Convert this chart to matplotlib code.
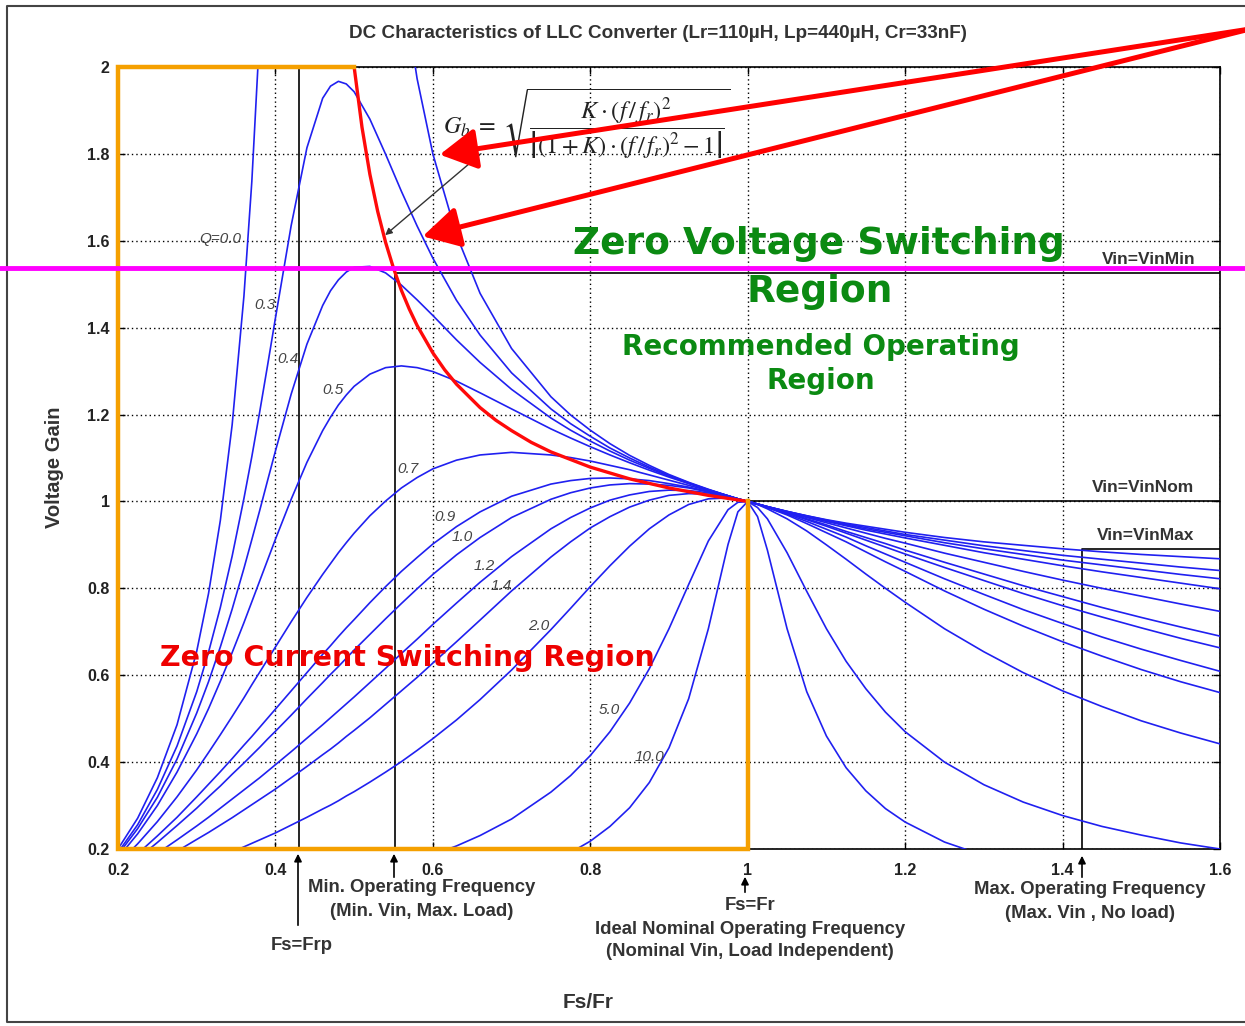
import matplotlib
matplotlib.use("Agg")
import numpy as np
import matplotlib.pyplot as plt
from matplotlib.lines import Line2D
from matplotlib.patches import FancyArrowPatch

plt.rcParams['font.family'] = ['Liberation Sans', 'DejaVu Sans']
plt.rcParams['mathtext.fontset'] = 'stix'

# normalized switching frequency Fs/Fr (shared by all Q curves)
fs_fr = [0.20, 0.225, 0.25, 0.275, 0.30, 0.315, 0.33, 0.345, 0.36, 0.37,
         0.38, 0.39, 0.40, 0.42, 0.44, 0.46, 0.47, 0.48, 0.49, 0.50,
         0.52, 0.54, 0.56, 0.58, 0.60, 0.63, 0.66, 0.70, 0.75, 0.775,
         0.80, 0.825, 0.85, 0.875, 0.90, 0.925, 0.95, 0.975, 0.9875, 1.00,
         1.0125, 1.025, 1.05, 1.075, 1.10, 1.125, 1.15, 1.175, 1.20, 1.25,
         1.30, 1.35, 1.40, 1.45, 1.50, 1.55, 1.60]

nan = np.nan
gain_q00 = [0.200, 0.271, 0.364, 0.486, 0.655, 0.788, 0.956, 1.176, 1.473, 1.736,
            2.078, 2.540, 3.200, nan, nan, nan, nan, nan, nan, nan,
            nan, 2.547, 2.208, 1.973, 1.800, 1.613, 1.479, 1.352, 1.241, 1.199,
            1.164, 1.133, 1.106, 1.083, 1.062, 1.044, 1.028, 1.013, 1.006, 1.000,
            0.994, 0.988, 0.977, 0.967, 0.958, 0.950, 0.943, 0.936, 0.929, 0.917,
            0.907, 0.899, 0.891, 0.884, 0.878, 0.873, 0.868]
gain_q03 = [0.192, 0.256, 0.337, 0.437, 0.562, 0.653, 0.756, 0.874, 1.007, 1.103,
            1.206, 1.313, 1.422, 1.635, 1.814, 1.928, 1.956, 1.967, 1.961, 1.943,
            1.880, 1.799, 1.714, 1.634, 1.560, 1.463, 1.383, 1.296, 1.213, 1.179,
            1.150, 1.123, 1.100, 1.079, 1.060, 1.043, 1.027, 1.013, 1.006, 1.000,
            0.994, 0.988, 0.977, 0.967, 0.957, 0.948, 0.940, 0.932, 0.924, 0.911,
            0.898, 0.887, 0.876, 0.867, 0.858, 0.849, 0.841]
gain_q04 = [0.187, 0.247, 0.319, 0.407, 0.513, 0.585, 0.665, 0.752, 0.846, 0.912,
            0.979, 1.048, 1.116, 1.247, 1.362, 1.451, 1.485, 1.510, 1.528, 1.539,
            1.541, 1.526, 1.498, 1.464, 1.428, 1.372, 1.320, 1.258, 1.192, 1.164,
            1.139, 1.116, 1.095, 1.076, 1.058, 1.042, 1.027, 1.013, 1.006, 1.000,
            0.994, 0.988, 0.977, 0.966, 0.956, 0.946, 0.937, 0.929, 0.921, 0.905,
            0.891, 0.878, 0.865, 0.854, 0.843, 0.832, 0.822]
gain_q05 = [0.180, 0.235, 0.300, 0.377, 0.465, 0.523, 0.586, 0.652, 0.721, 0.769,
            0.817, 0.865, 0.913, 1.005, 1.090, 1.163, 1.194, 1.222, 1.245, 1.265,
            1.293, 1.308, 1.312, 1.308, 1.299, 1.277, 1.250, 1.213, 1.167, 1.146,
            1.126, 1.107, 1.089, 1.072, 1.056, 1.041, 1.026, 1.013, 1.006, 1.000,
            0.994, 0.988, 0.976, 0.965, 0.954, 0.944, 0.934, 0.925, 0.916, 0.899,
            0.882, 0.867, 0.852, 0.838, 0.825, 0.812, 0.799]
gain_q07 = [0.166, 0.212, 0.263, 0.320, 0.382, 0.422, 0.463, 0.505, 0.548, 0.578,
            0.607, 0.636, 0.665, 0.723, 0.779, 0.832, 0.857, 0.882, 0.905, 0.927,
            0.967, 1.001, 1.031, 1.055, 1.075, 1.095, 1.107, 1.113, 1.107, 1.101,
            1.093, 1.083, 1.073, 1.061, 1.049, 1.037, 1.025, 1.013, 1.006, 1.000,
            0.994, 0.988, 0.975, 0.963, 0.951, 0.939, 0.927, 0.915, 0.904, 0.881,
            0.860, 0.839, 0.819, 0.800, 0.782, 0.764, 0.747]
gain_q09 = [0.151, 0.189, 0.230, 0.273, 0.320, 0.349, 0.378, 0.408, 0.439, 0.459,
            0.480, 0.501, 0.522, 0.564, 0.606, 0.648, 0.668, 0.689, 0.709, 0.728,
            0.767, 0.804, 0.839, 0.871, 0.902, 0.942, 0.976, 1.012, 1.040, 1.048,
            1.053, 1.054, 1.052, 1.048, 1.041, 1.033, 1.023, 1.012, 1.006, 1.000,
            0.994, 0.987, 0.974, 0.960, 0.946, 0.931, 0.917, 0.903, 0.888, 0.860,
            0.833, 0.806, 0.781, 0.756, 0.733, 0.711, 0.690]
gain_q10 = [0.144, 0.178, 0.215, 0.254, 0.294, 0.320, 0.345, 0.372, 0.398, 0.416,
            0.434, 0.453, 0.471, 0.508, 0.546, 0.583, 0.602, 0.620, 0.639, 0.658,
            0.694, 0.730, 0.765, 0.799, 0.832, 0.877, 0.917, 0.963, 1.005, 1.020,
            1.031, 1.038, 1.041, 1.040, 1.037, 1.031, 1.022, 1.012, 1.006, 1.000,
            0.994, 0.987, 0.973, 0.958, 0.943, 0.927, 0.911, 0.895, 0.879, 0.848,
            0.818, 0.788, 0.760, 0.734, 0.709, 0.685, 0.663]
gain_q12 = [0.131, 0.160, 0.190, 0.221, 0.253, 0.273, 0.294, 0.315, 0.336, 0.350,
            0.364, 0.379, 0.394, 0.424, 0.455, 0.486, 0.502, 0.518, 0.534, 0.550,
            0.583, 0.616, 0.650, 0.683, 0.717, 0.766, 0.814, 0.873, 0.937, 0.963,
            0.985, 1.003, 1.015, 1.023, 1.026, 1.025, 1.020, 1.011, 1.006, 1.000,
            0.994, 0.986, 0.971, 0.954, 0.936, 0.918, 0.898, 0.879, 0.860, 0.822,
            0.786, 0.751, 0.719, 0.688, 0.660, 0.634, 0.609]
gain_q14 = [0.119, 0.144, 0.169, 0.195, 0.222, 0.238, 0.255, 0.272, 0.290, 0.302,
            0.314, 0.326, 0.338, 0.364, 0.390, 0.417, 0.430, 0.444, 0.459, 0.473,
            0.502, 0.533, 0.564, 0.595, 0.628, 0.677, 0.727, 0.794, 0.872, 0.907,
            0.939, 0.965, 0.987, 1.003, 1.014, 1.018, 1.017, 1.011, 1.006, 1.000,
            0.993, 0.986, 0.969, 0.949, 0.928, 0.907, 0.884, 0.861, 0.839, 0.794,
            0.752, 0.713, 0.677, 0.644, 0.613, 0.585, 0.560]
gain_q20 = [0.092, 0.109, 0.125, 0.142, 0.160, 0.171, 0.182, 0.193, 0.205, 0.213,
            0.221, 0.229, 0.237, 0.255, 0.273, 0.292, 0.301, 0.311, 0.322, 0.332,
            0.354, 0.377, 0.401, 0.427, 0.454, 0.497, 0.544, 0.612, 0.705, 0.754,
            0.804, 0.852, 0.897, 0.937, 0.969, 0.993, 1.006, 1.008, 1.005, 1.000,
            0.993, 0.983, 0.960, 0.932, 0.900, 0.867, 0.833, 0.800, 0.768, 0.707,
            0.654, 0.606, 0.564, 0.528, 0.495, 0.467, 0.442]
gain_q50 = [0.041, 0.047, 0.053, 0.059, 0.066, 0.070, 0.074, 0.078, 0.083, 0.086,
            0.089, 0.092, 0.095, 0.102, 0.109, 0.117, 0.121, 0.125, 0.129, 0.133,
            0.142, 0.152, 0.163, 0.174, 0.187, 0.207, 0.231, 0.269, 0.331, 0.369,
            0.415, 0.470, 0.536, 0.615, 0.707, 0.809, 0.909, 0.981, 0.998, 1.000,
            0.986, 0.960, 0.882, 0.793, 0.707, 0.632, 0.569, 0.515, 0.470, 0.400,
            0.348, 0.308, 0.277, 0.252, 0.232, 0.214, 0.200]
gain_q100 = [0.021, 0.024, 0.027, 0.030, 0.033, 0.035, 0.037, 0.039, 0.041, 0.043,
             0.044, 0.046, 0.048, 0.051, 0.055, 0.058, 0.060, 0.062, 0.064, 0.067,
             0.071, 0.076, 0.082, 0.087, 0.094, 0.104, 0.117, 0.137, 0.170, 0.192,
             0.218, 0.252, 0.295, 0.353, 0.433, 0.546, 0.707, 0.901, 0.976, 1.000,
             0.965, 0.888, 0.707, 0.562, 0.460, 0.387, 0.334, 0.293, 0.262, 0.216,
             0.185, 0.162, 0.144, 0.130, 0.119, 0.110, 0.102]

# ZVS / ZCS boundary (red)
zvs_fs = [0.50, 0.51, 0.52, 0.53, 0.54, 0.55, 0.56, 0.57, 0.58, 0.60, 0.615,
          0.63, 0.66, 0.68, 0.70, 0.725, 0.75, 0.80, 0.85, 0.90, 0.95, 1.00]
zvs_gain = [2.000, 1.861, 1.753, 1.667, 1.596, 1.537, 1.486, 1.443, 1.405, 1.342, 1.303,
            1.270, 1.216, 1.187, 1.163, 1.136, 1.114, 1.079, 1.052, 1.031, 1.014, 1.000]

# curve labels and where they sit
q_labels = ['Q=0.0', '0.3', '0.4', '0.5', '0.7', '0.9', '1.0', '1.2', '1.4', '2.0', '5.0', '10.0']
q_label_x = [0.330, 0.387, 0.416, 0.473, 0.568, 0.615, 0.637, 0.665, 0.687, 0.735, 0.824, 0.875]
q_label_y = [1.604, 1.452, 1.328, 1.257, 1.075, 0.964, 0.918, 0.851, 0.805, 0.713, 0.520, 0.412]

# operating points
fs_frp = 0.43
fs_min = 0.552
fs_max = 1.425
gain_vin_min = 1.526
gain_vin_nom = 1.0
gain_vin_max = 0.891

x_ticks = [0.2, 0.4, 0.6, 0.8, 1.0, 1.2, 1.4, 1.6]
x_tick_labels = ['0.2', '0.4', '0.6', '0.8', '1', '1.2', '1.4', '1.6']
y_ticks = [0.2, 0.4, 0.6, 0.8, 1.0, 1.2, 1.4, 1.6, 1.8, 2.0]
y_tick_labels = ['0.2', '0.4', '0.6', '0.8', '1', '1.2', '1.4', '1.6', '1.8', '2']

W, H = 1245, 1026


def fpos(px, py):
    # pixel position in the picture -> figure fraction
    return px / W, 1 - py / H


BLUE = '#2020f0'
ORANGE = '#f5a000'
GREEN = '#0b8a12'
TXT = '#333333'

fig = plt.figure(figsize=(W / 100, H / 100), dpi=100)
ax = fig.add_axes([118 / W, 1 - 849 / H, (1220 - 118) / W, (849 - 67) / H])
ax.set_xlim(0.2, 1.6)
ax.set_ylim(0.2, 2.0)

ax.grid(True, color='black', linestyle=(0, (1, 2.2)), lw=1.0, zorder=1)
ax.set_axisbelow(True)

for g in [gain_q00, gain_q03, gain_q04, gain_q05, gain_q07, gain_q09, gain_q10,
          gain_q12, gain_q14, gain_q20, gain_q50, gain_q100]:
    ax.plot(fs_fr, g, color=BLUE, lw=1.2, zorder=3)

ax.plot(zvs_fs, zvs_gain, color='#ff0a0a', lw=2.4, zorder=4)

# operating frequency markers
ax.plot([fs_frp, fs_frp], [0.2, 2.0], color='black', lw=1.2, zorder=2)
ax.plot([fs_min, fs_min, 1.6], [0.2, gain_vin_min, gain_vin_min], color='black', lw=1.2, zorder=2)
ax.plot([1.0, 1.6], [gain_vin_nom, gain_vin_nom], color='black', lw=1.2, zorder=2)
ax.plot([fs_max, fs_max, 1.6], [0.2, gain_vin_max, gain_vin_max], color='black', lw=1.2, zorder=2)

# ZCS region outline
ax.plot([zvs_fs[0], 0.2, 0.2, 1.0, 1.0], [2.0, 2.0, 0.2, 0.2, zvs_gain[-1]],
        color=ORANGE, lw=3.2, clip_on=False, zorder=6, solid_joinstyle='miter')

ax.set_xticks(x_ticks)
ax.set_xticklabels(x_tick_labels)
ax.set_yticks(y_ticks)
ax.set_yticklabels(y_tick_labels)
ax.tick_params(direction='in', top=True, right=True, length=5, width=1, labelsize=11.5,
               colors='black')
ax.tick_params(axis='x', pad=10)
ax.tick_params(axis='y', pad=6)
for lab in ax.get_xticklabels() + ax.get_yticklabels():
    lab.set_fontweight('bold')
    lab.set_color('#222222')
for sp in ax.spines.values():
    sp.set_linewidth(1.2)

for lab, x, y in zip(q_labels, q_label_x, q_label_y):
    ax.text(x, y, lab, style='italic', fontsize=11, color='#444444',
            ha='center', va='center', zorder=5)

ax.text(1.091, 1.593, 'Zero Voltage Switching', family='DejaVu Sans', fontweight='bold',
        fontsize=27, color=GREEN, ha='center', va='center', zorder=7)
ax.text(1.091, 1.482, 'Region', family='DejaVu Sans', fontweight='bold',
        fontsize=27, color=GREEN, ha='center', va='center', zorder=7)
ax.text(1.093, 1.356, 'Recommended Operating', family='DejaVu Sans', fontweight='bold',
        fontsize=20, color=GREEN, ha='center', va='center', zorder=7)
ax.text(1.093, 1.277, 'Region', family='DejaVu Sans', fontweight='bold',
        fontsize=20, color=GREEN, ha='center', va='center', zorder=7)
ax.text(0.567, 0.640, 'Zero Current Switching Region', family='DejaVu Sans', fontweight='bold',
        fontsize=20.5, color='#ee0000', ha='center', va='center', zorder=7)

ax.text(1.509, 1.558, 'Vin=VinMin', fontsize=12.5, fontweight='bold', color=TXT,
        ha='center', va='center', zorder=7)
ax.text(1.502, 1.033, 'Vin=VinNom', fontsize=12.5, fontweight='bold', color=TXT,
        ha='center', va='center', zorder=7)
ax.text(1.506, 0.921, 'Vin=VinMax', fontsize=12.5, fontweight='bold', color=TXT,
        ha='center', va='center', zorder=7)

# formula and its pointer
fig.text(*fpos(443, 123),
         r'$G_b\;=\;\sqrt{\dfrac{K\cdot(f\,/\,f_r)^2}{\left|(1+K)\cdot(f\,/\,f_r)^2-1\right|}}$',
         fontsize=17.5, color='#222222', ha='left', va='center')
ax.annotate('', xy=(0.5367, 1.6088), xytext=(0.6638, 1.8045),
            arrowprops=dict(arrowstyle='-|>', color='#333333', lw=1.0, mutation_scale=10),
            zorder=5)

# titles
fig.text(*fpos(658, 33), 'DC Characteristics of LLC Converter (Lr=110\u00b5H, Lp=440\u00b5H, Cr=33nF)',
         fontsize=13.6, fontweight='bold', color=TXT, ha='center', va='center')
fig.text(*fpos(55, 467), 'Voltage Gain', fontsize=14.5, fontweight='bold', color=TXT,
         rotation=90, ha='center', va='center')
fig.text(*fpos(588, 1003), 'Fs/Fr', fontsize=15, fontweight='bold', color=TXT,
         ha='center', va='center')

# annotations under the axis
bottom_notes = [
    (422, 888, 'Min. Operating Frequency'),
    (422, 911, '(Min. Vin, Max. Load)'),
    (302, 945, 'Fs=Frp'),
    (750, 906, 'Fs=Fr'),
    (750, 929, 'Ideal Nominal Operating Frequency'),
    (750, 952, '(Nominal Vin, Load Independent)'),
    (1090, 889, 'Max. Operating Frequency'),
    (1090, 913, '(Max. Vin , No load)'),
]
for px, py, s in bottom_notes:
    fig.text(*fpos(px, py), s, fontsize=13.3, fontweight='bold', color=TXT,
             ha='center', va='center')

for px, y0, y1 in [(298, 928, 851), (394, 880, 851), (745, 895, 874), (1082, 880, 853)]:
    fig.add_artist(FancyArrowPatch(fpos(px, y0), fpos(px, y1), transform=fig.transFigure,
                                   arrowstyle='-|>', mutation_scale=11, color='black', lw=1.2))

# red call-out arrows
for tip in [(437, 155), (420, 237)]:
    fig.add_artist(FancyArrowPatch(fpos(1250, 29), fpos(*tip), transform=fig.transFigure,
                                   arrowstyle='-|>,head_length=0.45,head_width=0.25',
                                   mutation_scale=50, color='#ff0000', lw=3.6, zorder=12))

# magenta reference line across the whole figure
fig.add_artist(Line2D([0, 1], [1 - 268 / H] * 2, transform=fig.transFigure,
                      color='#ff00ff', lw=3.5, zorder=11))

# outer border
fig.add_artist(Line2D([1.0, 7 / W, 7 / W, 1.0], [1 - 6 / H, 1 - 6 / H, 1 - 1022 / H, 1 - 1022 / H],
                      transform=fig.transFigure, color='#444444', lw=1.5))

fig.savefig('out.png', dpi=100)
